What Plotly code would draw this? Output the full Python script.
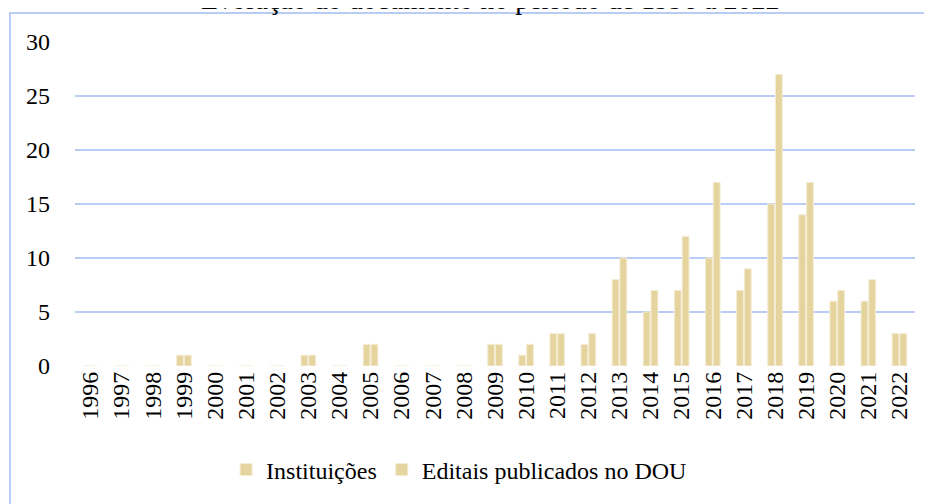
import plotly.graph_objects as go

years = [str(y) for y in range(1996, 2023)]
instituicoes = [0, 0, 0, 1, 0, 0, 0, 1, 0, 2, 0, 0, 0, 2, 1, 3, 2, 8, 5, 7, 10, 7, 15, 14, 6, 6, 3]
editais = [0, 0, 0, 1, 0, 0, 0, 1, 0, 2, 0, 0, 0, 2, 2, 3, 3, 10, 7, 12, 17, 9, 27, 17, 7, 8, 3]
y_ticks = [0, 5, 10, 15, 20, 25, 30]
title_text = "Evolução do documento no período de 1996 a 2022"

bar_color = "#E6D49F"
edge_color = "#F4ECD4"
grid_color = "#B8CCF6"
font_family = "Liberation Serif, Times New Roman, serif"

fig = go.Figure()
fig.add_trace(go.Bar(x=years, y=instituicoes, name="Instituições",
                     marker=dict(color=bar_color, line=dict(color=edge_color, width=1))))
fig.add_trace(go.Bar(x=years, y=editais, name="Editais publicados no DOU",
                     marker=dict(color=bar_color, line=dict(color=edge_color, width=1))))

fig.update_layout(
    width=932, height=504,
    margin=dict(l=67, r=25, t=34, b=146),
    paper_bgcolor="white", plot_bgcolor="white",
    barmode="group", bargap=0.5, bargroupgap=0.12,
    font=dict(family=font_family, size=24, color="#000000"),
    showlegend=True,
    legend=dict(orientation="h", x=0.484, xref="container", xanchor="center",
                y=1 - 462/504, yref="container", yanchor="middle",
                font=dict(family=font_family, size=24, color="#000000"),
                itemwidth=30, traceorder="normal", bgcolor="rgba(0,0,0,0)"),
    xaxis=dict(type="category", tickangle=-90, showgrid=False, showline=False,
               zeroline=False, ticks="", tickfont=dict(family=font_family, size=24)),
    yaxis=dict(range=[0, 30], tickvals=y_ticks, showgrid=True, gridcolor=grid_color,
               gridwidth=2, zeroline=False, showline=False, ticks="",
               ticklabelstandoff=24, tickfont=dict(family=font_family, size=24)),
    shapes=[dict(type="rect", xref="paper", yref="paper",
                 x0=-65/840, x1=1.06, y0=-0.6, y1=1 + 29/324,
                 line=dict(color=grid_color, width=2), fillcolor="rgba(0,0,0,0)",
                 layer="below")],
    annotations=[dict(text=title_text, xref="paper", yref="paper",
                      x=(490 - 75) / 840, y=1 + 25/324, xanchor="center", yanchor="bottom",
                      showarrow=False, font=dict(family=font_family, size=28, color="#000000"))],
)

fig.write_html("out.html")
